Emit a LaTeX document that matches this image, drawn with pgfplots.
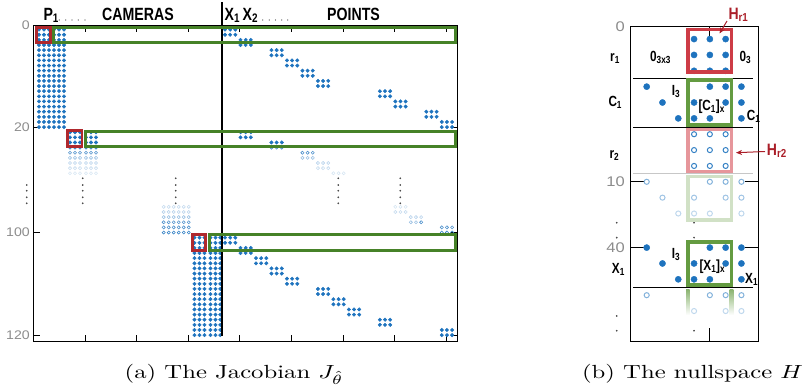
\documentclass[border=0pt]{standalone}
\usepackage{fontspec}
\usepackage{graphicx}
\usepackage{pgfplots}
\pgfplotsset{compat=1.18}
\usetikzlibrary{arrows.meta}
\newfontfamily\lsans{Liberation Sans}
\definecolor{mblue}{RGB}{30,115,190}
\definecolor{gA}{RGB}{70,130,40}
\definecolor{rA}{RGB}{175,40,45}
\definecolor{gB}{RGB}{100,155,65}
\definecolor{rB}{RGB}{205,60,70}
\definecolor{rL}{RGB}{230,150,155}
\definecolor{hred}{RGB}{170,30,40}
\definecolor{tickgray}{RGB}{140,140,140}
\newcommand\hlab[1]{\scalebox{0.8}[1]{\lsans\bfseries\fontsize{17.7}{18}\selectfont #1}}
\newcommand\blab[1]{\scalebox{0.8}[1]{\lsans\bfseries\fontsize{14.7}{15}\selectfont #1}}
\newcommand\hrlab[1]{\scalebox{0.85}[1]{\lsans\bfseries\fontsize{16.5}{17}\selectfont #1}}
\newcommand\tla[1]{\scalebox{1.13}[1]{\lsans\fontsize{12.5}{12.5}\selectfont #1}}
\newcommand\tlb[1]{\scalebox{1.18}[1]{\lsans\fontsize{14}{14}\selectfont #1}}
\pgfplotsset{
  fa/.style={only marks, mark=*, mark size=1.75pt, color=mblue, mark options={draw=none, fill=mblue}},
  ha/.style={only marks, mark=o, mark size=1.55pt, color=mblue!#1, mark options={line width=0.6pt, solid}},
  fb/.style={only marks, mark=*, mark size=3.1pt, color=mblue, mark options={draw=none, fill=mblue}},
  hb/.style={only marks, mark=o, mark size=2.55pt, color=mblue!#1, mark options={line width=1pt, solid}},
  el/.style={only marks, mark=*, mark size=0.65pt, color=black!70, mark options={draw=none}},
}
\begin{document}
\begin{tikzpicture}
\path[use as bounding box] (0pt,0pt) rectangle (803pt,-389pt);
% ---------------- (a) Jacobian ----------------
\begin{axis}[at={(33.3pt,-25pt)}, anchor=north west, scale only axis,
  width=423.7pt, height=316pt,
  xmin=0, xmax=82.1, ymin=0.1, ymax=61.7, y dir=reverse, clip=false,
  xtick={10,20,30,40,50,60,70,80}, xticklabels={},
  ytick={0.1,20,40.55,60.55}, yticklabels={\tla{0},\tla{20},\tla{100},\tla{120}},
  yticklabel style={text=tickgray, inner sep=0pt, xshift=-3.3pt},
  major tick length=6.5pt, tick style={black, line width=0.8pt},
  axis line style={line width=0.9pt}]
% camera 1
\addplot[fa] coordinates {
(1.1,1)(2.07,1)(3.04,1)(4.01,1)(4.98,1)(5.95,1)
(1.1,2)(2.07,2)(3.04,2)(4.01,2)(4.98,2)(5.95,2)
(1.1,3)(2.07,3)(3.04,3)(4.01,3)(4.98,3)(5.95,3)
(1.1,4)(2.07,4)(3.04,4)(4.01,4)(4.98,4)(5.95,4)
(1.1,5)(2.07,5)(3.04,5)(4.01,5)(4.98,5)(5.95,5)
(1.1,6)(2.07,6)(3.04,6)(4.01,6)(4.98,6)(5.95,6)
(1.1,7)(2.07,7)(3.04,7)(4.01,7)(4.98,7)(5.95,7)
(1.1,8)(2.07,8)(3.04,8)(4.01,8)(4.98,8)(5.95,8)
(1.1,9)(2.07,9)(3.04,9)(4.01,9)(4.98,9)(5.95,9)
(1.1,10)(2.07,10)(3.04,10)(4.01,10)(4.98,10)(5.95,10)
(1.1,11)(2.07,11)(3.04,11)(4.01,11)(4.98,11)(5.95,11)
(1.1,12)(2.07,12)(3.04,12)(4.01,12)(4.98,12)(5.95,12)
(1.1,13)(2.07,13)(3.04,13)(4.01,13)(4.98,13)(5.95,13)
(1.1,14)(2.07,14)(3.04,14)(4.01,14)(4.98,14)(5.95,14)
(1.1,15)(2.07,15)(3.04,15)(4.01,15)(4.98,15)(5.95,15)
(1.1,16)(2.07,16)(3.04,16)(4.01,16)(4.98,16)(5.95,16)
(1.1,17)(2.07,17)(3.04,17)(4.01,17)(4.98,17)(5.95,17)
(1.1,18)(2.07,18)(3.04,18)(4.01,18)(4.98,18)(5.95,18)
(1.1,19)(2.07,19)(3.04,19)(4.01,19)(4.98,19)(5.95,19)
(1.1,20)(2.07,20)(3.04,20)(4.01,20)(4.98,20)(5.95,20)
};
% camera 2 (rows 21-23)
\addplot[fa] coordinates {
(7.11,21)(8.08,21)(9.05,21)(10.21,21)(11.18,21)(12.15,21)
(7.11,22)(8.08,22)(9.05,22)(10.21,22)(11.18,22)(12.15,22)
(7.11,23)(8.08,23)(9.05,23)(10.21,23)(11.18,23)(12.15,23)
};
% camera 6 (rows 101-120)
\addplot[fa] coordinates {
(31.23,41.55)(32.2,41.55)(33.17,41.55)(34.33,41.55)(35.3,41.55)(36.23,41.55)
(31.23,42.55)(32.2,42.55)(33.17,42.55)(34.33,42.55)(35.3,42.55)(36.23,42.55)
(31.23,43.55)(32.2,43.55)(33.17,43.55)(34.33,43.55)(35.3,43.55)(36.23,43.55)
(31.23,44.55)(32.2,44.55)(33.17,44.55)(34.33,44.55)(35.3,44.55)(36.23,44.55)
(31.23,45.55)(32.2,45.55)(33.17,45.55)(34.33,45.55)(35.3,45.55)(36.23,45.55)
(31.23,46.55)(32.2,46.55)(33.17,46.55)(34.33,46.55)(35.3,46.55)(36.23,46.55)
(31.23,47.55)(32.2,47.55)(33.17,47.55)(34.33,47.55)(35.3,47.55)(36.23,47.55)
(31.23,48.55)(32.2,48.55)(33.17,48.55)(34.33,48.55)(35.3,48.55)(36.23,48.55)
(31.23,49.55)(32.2,49.55)(33.17,49.55)(34.33,49.55)(35.3,49.55)(36.23,49.55)
(31.23,50.55)(32.2,50.55)(33.17,50.55)(34.33,50.55)(35.3,50.55)(36.23,50.55)
(31.23,51.55)(32.2,51.55)(33.17,51.55)(34.33,51.55)(35.3,51.55)(36.23,51.55)
(31.23,52.55)(32.2,52.55)(33.17,52.55)(34.33,52.55)(35.3,52.55)(36.23,52.55)
(31.23,53.55)(32.2,53.55)(33.17,53.55)(34.33,53.55)(35.3,53.55)(36.23,53.55)
(31.23,54.55)(32.2,54.55)(33.17,54.55)(34.33,54.55)(35.3,54.55)(36.23,54.55)
(31.23,55.55)(32.2,55.55)(33.17,55.55)(34.33,55.55)(35.3,55.55)(36.23,55.55)
(31.23,56.55)(32.2,56.55)(33.17,56.55)(34.33,56.55)(35.3,56.55)(36.23,56.55)
(31.23,57.55)(32.2,57.55)(33.17,57.55)(34.33,57.55)(35.3,57.55)(36.23,57.55)
(31.23,58.55)(32.2,58.55)(33.17,58.55)(34.33,58.55)(35.3,58.55)(36.23,58.55)
(31.23,59.55)(32.2,59.55)(33.17,59.55)(34.33,59.55)(35.3,59.55)(36.23,59.55)
(31.23,60.55)(32.2,60.55)(33.17,60.55)(34.33,60.55)(35.3,60.55)(36.23,60.55)
};
% points, filled
\addplot[fa] coordinates {
(37.15,1)(38.15,1)(39.15,1)(37.15,2)(38.15,2)(39.15,2)
(40.15,3)(41.15,3)(42.15,3)(40.15,4)(41.15,4)(42.15,4)
(46.15,5)(47.15,5)(48.15,5)(46.15,6)(47.15,6)(48.15,6)
(49.15,7)(50.15,7)(51.15,7)(49.15,8)(50.15,8)(51.15,8)
(52.15,9)(53.15,9)(54.15,9)(52.15,10)(53.15,10)(54.15,10)
(55.15,11)(56.15,11)(57.15,11)(55.15,12)(56.15,12)(57.15,12)
(67.15,13)(68.15,13)(69.15,13)(67.15,14)(68.15,14)(69.15,14)
(70.15,15)(71.15,15)(72.15,15)(70.15,16)(71.15,16)(72.15,16)
(76.15,17)(77.15,17)(78.15,17)(76.15,18)(77.15,18)(78.15,18)
(79.15,19)(80.15,19)(81.15,19)(79.15,20)(80.15,20)(81.15,20)
(40.15,21)(41.15,21)(42.15,21)(40.15,22)(41.15,22)(42.15,22)
(46.15,23)(47.15,23)(48.15,23)
(37.15,41.55)(38.15,41.55)(39.15,41.55)(37.15,42.55)(38.15,42.55)(39.15,42.55)
(40.15,43.55)(41.15,43.55)(42.15,43.55)(40.15,44.55)(41.15,44.55)(42.15,44.55)
(43.15,45.55)(44.15,45.55)(45.15,45.55)(43.15,46.55)(44.15,46.55)(45.15,46.55)
(46.15,47.55)(47.15,47.55)(48.15,47.55)(46.15,48.55)(47.15,48.55)(48.15,48.55)
(49.15,49.55)(50.15,49.55)(51.15,49.55)(49.15,50.55)(50.15,50.55)(51.15,50.55)
(55.15,51.55)(56.15,51.55)(57.15,51.55)(55.15,52.55)(56.15,52.55)(57.15,52.55)
(58.15,53.55)(59.15,53.55)(60.15,53.55)(58.15,54.55)(59.15,54.55)(60.15,54.55)
(61.15,55.55)(62.15,55.55)(63.15,55.55)(61.15,56.55)(62.15,56.55)(63.15,56.55)
(67.15,57.55)(68.15,57.55)(69.15,57.55)(67.15,58.55)(68.15,58.55)(69.15,58.55)
(79.15,59.55)(80.15,59.55)(81.15,59.55)(79.15,60.55)(80.15,60.55)(81.15,60.55)
};
% hollow, fading
\addplot[ha=90] coordinates {
(7.11,24)(8.08,24)(9.05,24)(10.21,24)(11.18,24)(12.15,24)(46.15,24)(47.15,24)(48.15,24)
(25.27,40.55)(26.24,40.55)(27.21,40.55)(28.18,40.55)(29.15,40.55)(30.12,40.55)
(79.15,40.55)(80.15,40.55)(81.15,40.55)
};
\addplot[ha=78] coordinates {
(7.11,25)(8.08,25)(9.05,25)(10.21,25)(11.18,25)(12.15,25)(52.15,25)(53.15,25)(54.15,25)
(25.27,39.55)(26.24,39.55)(27.21,39.55)(28.18,39.55)(29.15,39.55)(30.12,39.55)
(79.15,39.55)(80.15,39.55)(81.15,39.55)
(25.27,38.55)(26.24,38.55)(27.21,38.55)(28.18,38.55)(29.15,38.55)(30.12,38.55)
(75.15,38.55)
};
\addplot[ha=45] coordinates {
(7.11,26)(8.08,26)(9.05,26)(10.21,26)(11.18,26)(12.15,26)(52.15,26)(53.15,26)(54.15,26)
(25.27,37.55)(26.24,37.55)(27.21,37.55)(28.18,37.55)(29.15,37.55)(30.12,37.55)
(73.15,38.55)(74.15,38.55)
};
\addplot[ha=33] coordinates {
(7.11,27)(8.08,27)(9.05,27)(10.21,27)(11.18,27)(12.15,27)(55.15,27)(56.15,27)(57.15,27)
(25.27,36.55)(26.24,36.55)(27.21,36.55)(28.18,36.55)(29.15,36.55)(30.12,36.55)
(73.15,37.55)(74.15,37.55)(75.15,37.55)
};
\addplot[ha=25] coordinates {
(7.11,28)(8.08,28)(9.05,28)(10.21,28)(11.18,28)(12.15,28)(55.15,28)(56.15,28)(57.15,28)
(25.27,35.55)(26.24,35.55)(27.21,35.55)(28.18,35.55)(29.15,35.55)(30.12,35.55)
(70.15,36.55)(71.15,36.55)(72.15,36.55)
};
\addplot[ha=18] coordinates {
(7.11,29)(8.08,29)(9.05,29)(10.21,29)(11.18,29)(12.15,29)(58.15,29)(59.15,29)(60.15,29)
(70.15,35.55)(71.15,35.55)(72.15,35.55)
};
% vertical ellipses
\addplot[el] coordinates {
(-1.28,31.29)(-1.28,32.4)(-1.28,33.69)(-1.28,34.86)
(9.57,29.98)(9.57,31.29)(9.57,32.4)(9.57,33.69)(9.57,34.86)
(27.59,29.98)(27.59,31.29)(27.59,32.4)(27.59,33.69)(27.59,34.86)
(59.1,29.98)(59.1,31.29)(59.1,32.4)(59.1,33.69)(59.1,34.86)
(71.11,29.98)(71.11,31.29)(71.11,32.4)(71.11,33.69)(71.11,34.86)
};
\end{axis}
% ---------------- (b) nullspace ----------------
\begin{axis}[at={(630.7pt,-26.7pt)}, anchor=north west, scale only axis,
  width=127.6pt, height=314.3pt,
  xmin=-0.013, xmax=8.07, ymin=0, ymax=19.82, y dir=reverse, clip=false,
  xtick={5}, xticklabels={},
  ytick={0,9.78,13.93}, yticklabels={\tlb{0},\tlb{10},\tlb{40}},
  yticklabel style={text=tickgray, inner sep=0pt, xshift=-5.7pt},
  major tick length=13pt, tick style={black, line width=0.8pt},
  axis line style={line width=0.9pt}]
\addplot[fb] coordinates {
(4,0.78)(5,0.78)(6,0.78)(4,1.78)(5,1.78)(6,1.78)(4,2.78)(5,2.78)(6,2.78)
(1,3.78)(5,3.78)(6,3.78)(7,3.78)
(2,4.78)(4,4.78)(6,4.78)(7,4.78)
(3,5.78)(4,5.78)(5,5.78)(7,5.78)
(1,13.93)(5,13.93)(6,13.93)(7,13.93)
(2,14.93)(4,14.93)(6,14.93)(7,14.93)
(3,15.93)(4,15.93)(5,15.93)(7,15.93)
};
\addplot[hb=90] coordinates {(4,6.78)(5,6.78)(6,6.78)(4,7.78)(5,7.78)(6,7.78)(4,8.78)(5,8.78)(6,8.78)};
\addplot[hb=55] coordinates {(1,9.78)(5,9.78)(6,9.78)(7,9.78)(1,16.93)(5,16.93)(6,16.93)(7,16.93)};
\addplot[hb=42] coordinates {(2,10.78)(4,10.78)(6,10.78)(7,10.78)};
\addplot[hb=28] coordinates {(3,11.78)(4,11.78)(5,11.78)(7,11.78)(4,17.93)(6,17.93)(7,17.93)};
\addplot[el] coordinates {(-0.9,12.36)(-0.9,13.3)(-0.9,18.24)(-0.9,19.17)(4,12.36)(4,13.3)(4,19.17)};
\end{axis}
% ---------------- annotations (pixel frame) ----------------
\begin{scope}[x=1pt,y=-1pt]
% (a)
\draw[line width=1.3pt] (222,2) -- (222,336);
\draw[gA, line width=2.8pt] (53.1,27.4) rectangle (455.6,42.6);
\draw[gA, line width=2.8pt] (85.4,131.4) rectangle (455.6,146.3);
\draw[gA, line width=2.8pt] (209.1,234.7) rectangle (455.6,250.3);
\draw[rA, line width=2.8pt] (36.4,27.4) rectangle (50.3,42.6);
\draw[rA, line width=2.8pt] (67.4,130.7) rectangle (81.9,146.3);
\draw[rA, line width=2.8pt] (192.1,234.7) rectangle (205.3,250.3);
\node[anchor=base west, inner sep=0] at (43.3,20) {\hlab{P\textsubscript{1}}};
\node[anchor=base, inner sep=0] at (138,20) {\hlab{CAMERAS}};
\node[anchor=base west, inner sep=0] at (224.5,20) {\hlab{X\textsubscript{1}}};
\node[anchor=base west, inner sep=0] at (242.5,20) {\hlab{X\textsubscript{2}}};
\node[anchor=base, inner sep=0] at (353.5,20) {\hlab{POINTS}};
\foreach \xx in {59.3,65.7,72,78.3,85,262.7,269.3,275.5,281.7,287.7}
  \fill[black!75] (\xx,20) circle (0.65);
% (b)
\draw[line width=0.9pt] (633,78.3) -- (753,78.3);
\draw[line width=0.9pt] (633,127) -- (753,127);
\draw[black!22, line width=1.5pt] (633,173.7) -- (753,173.7);
\draw[line width=0.9pt] (633,287.7) -- (753,287.7);
\draw[rB, line width=3.5pt] (687.8,29.5) rectangle (731.5,72.2);
\draw[gB, line width=3.5pt] (687.8,80.2) rectangle (731.5,124.8);
\draw[rL, line width=3.5pt] (687.8,129.5) rectangle (731.5,171.5);
\draw[gB!30, line width=3.5pt] (687.8,176.5) rectangle (731.5,220);
\draw[gB, line width=3.5pt] (687.8,241.8) rectangle (731.5,285);
\shade[top color=gB!75, bottom color=white] (686,289.5) rectangle (689.6,315);
\shade[top color=gB!75, bottom color=white] (729.7,289.5) rectangle (733.3,315);
\node[anchor=base west, inner sep=0] at (610,61.7) {\blab{r\textsubscript{1}}};
\node[anchor=base west, inner sep=0] at (650,61.7) {\blab{0\textsubscript{3x3}}};
\node[anchor=base west, inner sep=0] at (739.3,61.7) {\blab{0\textsubscript{3}}};
\node[anchor=base west, inner sep=0] at (608.3,106) {\blab{C\textsubscript{1}}};
\node[anchor=base west, inner sep=0] at (671.7,95) {\blab{I\textsubscript{3}}};
\node[anchor=base west, inner sep=0] at (698.3,110) {\blab{[C\textsubscript{1}]\textsubscript{x}}};
\node[anchor=base west, inner sep=0] at (746.7,120.7) {\blab{C\textsubscript{1}}};
\node[anchor=base west, inner sep=0] at (609.3,158.3) {\blab{r\textsubscript{2}}};
\node[anchor=base west, inner sep=0] at (611.7,273.3) {\blab{X\textsubscript{1}}};
\node[anchor=base west, inner sep=0] at (671.7,258.3) {\blab{I\textsubscript{3}}};
\node[anchor=base west, inner sep=0] at (699.3,270.7) {\blab{[X\textsubscript{1}]\textsubscript{x}}};
\node[anchor=base west, inner sep=0] at (745,283.3) {\blab{X\textsubscript{1}}};
\node[anchor=base west, inner sep=0, text=hred] at (728.3,19) {\hrlab{H\textsubscript{r1}}};
\node[anchor=base west, inner sep=0, text=hred] at (766.7,155) {\hrlab{H\textsubscript{r2}}};
\draw[hred, line width=1pt, -{Stealth[length=6pt,width=5pt]}] (727,21) -- (719.5,33.5);
\draw[hred, line width=1pt, -{Stealth[length=6pt,width=5pt]}] (765,151.5) -- (736,152.7);
% captions
\node[anchor=base, inner sep=0] at (234,378) {\scalebox{2.47}[1.9]{(a) The Jacobian $J_{\hat{\theta}}$}};
\node[anchor=base, inner sep=0] at (692.5,378) {\scalebox{2.47}[1.9]{(b) The nullspace $H$}};
\end{scope}
\end{tikzpicture}
\end{document}
